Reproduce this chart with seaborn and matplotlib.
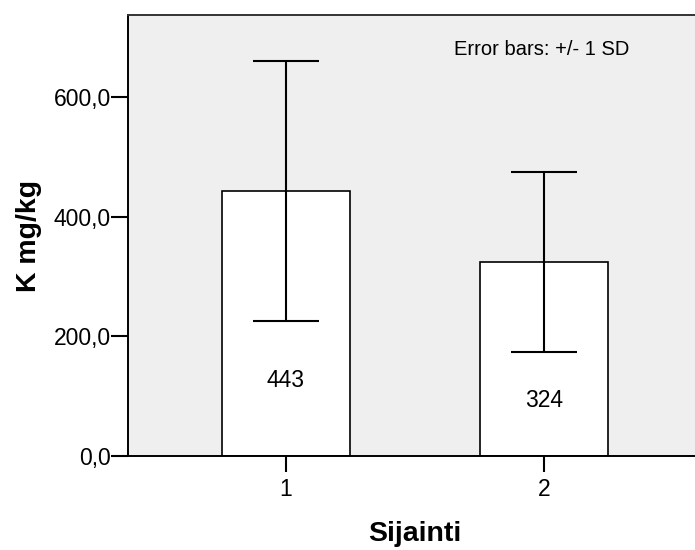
import matplotlib
matplotlib.use("Agg")
import matplotlib.pyplot as plt
import seaborn as sns
import pandas as pd
from matplotlib.ticker import FuncFormatter

# Mean potassium per location with standard deviations
sijainti = ["1", "2"]
k_mean = [443, 324]
k_sd = [217, 150]
y_ticks = [0, 200, 400, 600]

df = pd.DataFrame({"Sijainti": sijainti, "K": k_mean, "SD": k_sd})

sns.set_style("white")
plt.rcParams["font.family"] = ["Liberation Sans", "DejaVu Sans"]
plt.rcParams["text.color"] = "black"
plt.rcParams["axes.labelcolor"] = "black"

fig = plt.figure(figsize=(6.95, 5.5), dpi=100)
ax = fig.add_axes([128 / 695, 94 / 550, (702 - 128) / 695, 441 / 550])
ax.set_facecolor("#efefef")

sns.barplot(data=df, x="Sijainti", y="K", order=sijainti, color="white",
            edgecolor="black", linewidth=1.2, width=0.496, errorbar=None,
            saturation=1, ax=ax)

ax.errorbar(x=range(len(sijainti)), y=df["K"], yerr=df["SD"], fmt="none",
            ecolor="black", elinewidth=1.5, capsize=23.5, capthick=1.5,
            zorder=5)

for i, v in enumerate(k_mean):
    ax.text(i, v * 0.285, f"{v}", ha="center", va="center", fontsize=16.5,
            color="black", zorder=6)

ax.text(0.99, 680, "Error bars: +/- 1 SD", ha="center", va="center",
        fontsize=14.5, color="black")

ax.set_xlim(-0.612, 1.612)
ax.set_ylim(0, 737)
ax.set_yticks(y_ticks)
ax.yaxis.set_major_formatter(FuncFormatter(lambda v, _: f"{v:.1f}".replace(".", ",")))

for side in ["left", "top", "bottom"]:
    ax.spines[side].set_visible(True)
    ax.spines[side].set_color("black")
    ax.spines[side].set_linewidth(1.4)
ax.spines["right"].set_visible(False)
ax.spines["top"].set_color("#333333")

ax.tick_params(axis="y", which="major", direction="out", length=12,
               width=1.5, color="black", labelsize=16.5, labelcolor="black",
               left=True, pad=0.5)
ax.tick_params(axis="x", which="major", direction="out", length=11.5,
               width=1.5, color="black", labelsize=16.5, labelcolor="black",
               bottom=True, pad=4)

ax.set_xlabel("Sijainti", fontsize=20.5, fontweight="bold", labelpad=15,
              color="black")
ax.set_ylabel("K mg/kg", fontsize=20.5, fontweight="bold", labelpad=8,
              color="black")

fig.savefig("out.png", dpi=100)
